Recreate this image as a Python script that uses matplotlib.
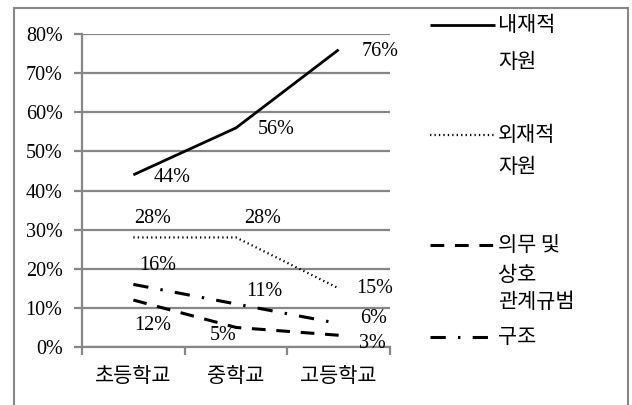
import matplotlib.pyplot as plt
from matplotlib.lines import Line2D
from matplotlib.patches import Rectangle

categories = ["초등학교", "중학교", "고등학교"]
internal = [44, 56, 76]
external = [28, 28, 15]
norms = [12, 5, 3]
structure = [16, 11, 6]

series_names = ["내재적\n자원", "외재적\n자원", "의무 및\n상호\n관계규범", "구조"]

NUM_FONT = ["Liberation Serif", "Noto Sans CJK KR"]
KR_FONT = ["Noto Sans CJK KR", "DejaVu Sans"]
GRID = "#878787"

W, H = 632, 405
fig = plt.figure(figsize=(W / 100, H / 100), dpi=100)
ax = fig.add_axes([82 / W, 1 - 347 / H, (390 - 82) / W, (347 - 34) / H])

x = range(len(categories))
styles = [
    dict(linestyle="-", linewidth=2.0),
    dict(linestyle=(0, (0.6, 1.4)), linewidth=1.6),
    dict(linestyle=(0, (4.5, 3.5)), linewidth=2.2),
    dict(linestyle=(0, (5, 4, 0.8, 4)), linewidth=2.2),
]
all_series = [internal, external, norms, structure]
for vals, st in zip(all_series, styles):
    ax.plot(x, vals, color="black", solid_capstyle="butt", dash_capstyle="butt", **st)

# label offsets in pixels (dx, dy) from each point
offsets = [
    [(39, -3), (40, -2), (41, -2)],
    [(19, 19), (27, 19), (36, 0)],
    [(19, -25), (-13, -8), (34, -8)],
    [(24, 19), (28, 12), (35, 5)],
]
for vals, offs in zip(all_series, offsets):
    for i, (v, (dx, dy)) in enumerate(zip(vals, offs)):
        ax.annotate(f"{v}%", (i, v), xytext=(dx * 0.72, dy * 0.72),
                    textcoords="offset points", ha="center", va="center",
                    fontsize=14.5, family=NUM_FONT, color="black")

ax.set_xlim(-0.5, 2.5)
ax.set_ylim(0, 80)
ax.set_yticks(range(0, 81, 10))
ax.set_yticklabels([f"{t}%" for t in range(0, 81, 10)], family=NUM_FONT,
                   fontsize=14.5)
ax.yaxis.grid(True, color=GRID, linewidth=1.6)
ax.set_axisbelow(True)

ax.set_xticks([-0.5, 0.5, 1.5, 2.5])
ax.set_xticklabels([])
ax.set_xticks(list(x), minor=True)
ax.set_xticklabels(categories, minor=True, family=KR_FONT, fontsize=15)
ax.tick_params(axis="x", which="minor", length=0, pad=13)
ax.tick_params(axis="x", which="major", length=6, width=1.6, color=GRID)
ax.tick_params(axis="y", length=6, width=1.6, color=GRID, pad=8)

for side in ["top", "right"]:
    ax.spines[side].set_visible(False)
for side in ["left", "bottom"]:
    ax.spines[side].set_color(GRID)
    ax.spines[side].set_linewidth(1.6)

# legend drawn by hand on the right: one sample line per entry, text rows below it
legend_rows = [[25, 62], [135, 167], [245, 275, 302], [337]]
for name, st, rows in zip(series_names, styles, legend_rows):
    y0 = 1 - rows[0] / H
    fig.add_artist(Line2D([430 / W, 495 / W], [y0, y0], color="black",
                          solid_capstyle="butt", dash_capstyle="butt", **st))
    for line, ypx in zip(name.split("\n"), rows):
        fig.text(498 / W, 1 - ypx / H, line, ha="left", va="center",
                 family=KR_FONT, fontsize=15)

fig.add_artist(Rectangle((14 / W, -0.05), (628 - 14) / W, 1.05 - 8 / H,
                         transform=fig.transFigure, fill=False,
                         edgecolor=GRID, linewidth=1.5))

fig.savefig("out.png", dpi=100)
